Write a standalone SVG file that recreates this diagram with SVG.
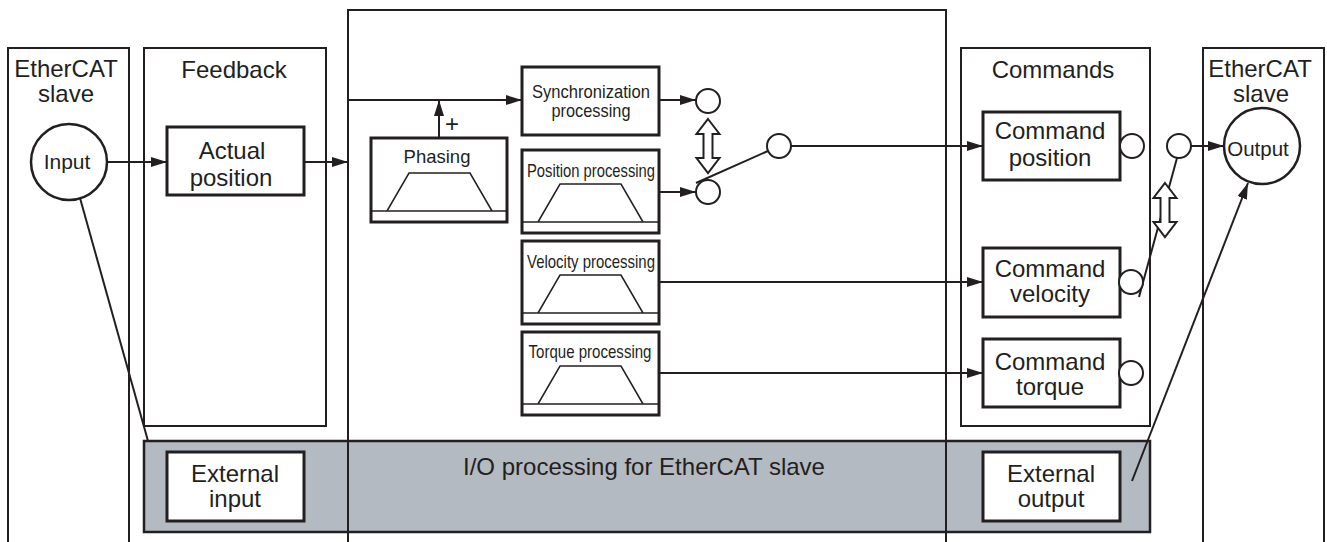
<svg xmlns="http://www.w3.org/2000/svg" width="1327" height="542" viewBox="0 0 1327 542">
<style>
text{font-family:"Liberation Sans",Arial,Helvetica,sans-serif;fill:#231f20;text-anchor:middle}
.big{font-size:24px}
.sm{font-size:19px}
.outer{fill:none;stroke:#231f20;stroke-width:2}
.inner{fill:#fff;stroke:#231f20;stroke-width:3}
.thin{fill:none;stroke:#231f20;stroke-width:1.5}
.conn{fill:none;stroke:#231f20;stroke-width:2}
.circ{fill:#fff;stroke:#231f20;stroke-width:2}
.dbl{fill:#fff;stroke:#231f20;stroke-width:2;stroke-linejoin:miter}
</style>
<defs>
<marker id="ah" viewBox="0 0 16 10" refX="16" refY="5" markerWidth="16" markerHeight="10" markerUnits="userSpaceOnUse" orient="auto">
<path d="M0,0 L16,5 L0,10 Z" fill="#231f20"/>
</marker>
<g id="trap">
<path d="M0,0 H136 M16,0 L38,-38 H99 L121,0" class="thin"/>
</g>
</defs>
<rect width="1327" height="542" fill="#fff"/>

<g id="io-band">
<rect x="144" y="441" width="1006" height="91" fill="#b4bac2" stroke="#231f20" stroke-width="2.5"/>
<text class="big" x="644" y="475">I/O processing for EtherCAT slave</text>
</g>

<g id="ethercat-in">
<path d="M8,545 V48 H129 V545" class="outer"/>
<text class="big" x="66" y="77">EtherCAT</text>
<text class="big" x="66" y="102">slave</text>
</g>
<g id="input">
<circle cx="69" cy="162" r="38" fill="#fff" stroke="#231f20" stroke-width="2.5"/>
<text x="67" y="169" style="font-size:21px">Input</text>
</g>

<g id="feedback">
<rect x="144" y="48" width="182" height="378" class="outer"/>
<text class="big" x="234" y="78">Feedback</text>
</g>
<g id="actual-position">
<rect x="167" y="127" width="137" height="68" class="inner"/>
<text class="big" x="232" y="159">Actual</text>
<text class="big" x="231" y="186">position</text>
</g>
<g id="external-input">
<rect x="167" y="452" width="137" height="69" class="inner"/>
<text class="big" x="235" y="482">External</text>
<text class="big" x="235" y="507">input</text>
</g>

<g id="processing">
<path d="M348,545 V10 H946 V545" class="outer"/>
</g>
<g id="phasing">
<rect x="371" y="138" width="136" height="84" class="inner"/>
<text x="437" y="163" style="font-size:18.5px">Phasing</text>
<use href="#trap" x="371" y="211"/>
<text x="452" y="132" style="font-size:24px">+</text>
</g>
<g id="sync">
<rect x="522" y="67" width="137" height="68" class="inner"/>
<text class="sm" x="591" y="98" textLength="118" lengthAdjust="spacingAndGlyphs">Synchronization</text>
<text class="sm" x="591" y="117" textLength="79" lengthAdjust="spacingAndGlyphs">processing</text>
</g>
<g id="position-processing">
<rect x="522" y="150" width="137" height="83" class="inner"/>
<text class="sm" x="591" y="177" textLength="128" lengthAdjust="spacingAndGlyphs">Position processing</text>
<use href="#trap" x="522" y="222"/>
</g>
<g id="velocity-processing">
<rect x="522" y="241" width="137" height="83" class="inner"/>
<text class="sm" x="591" y="268" textLength="128" lengthAdjust="spacingAndGlyphs">Velocity processing</text>
<use href="#trap" x="522" y="313"/>
</g>
<g id="torque-processing">
<rect x="522" y="332" width="137" height="83" class="inner"/>
<text class="sm" x="590" y="358" textLength="123" lengthAdjust="spacingAndGlyphs">Torque processing</text>
<use href="#trap" x="522" y="404"/>
</g>

<g id="commands">
<rect x="961" y="48" width="189" height="378" class="outer"/>
<text class="big" x="1053" y="78">Commands</text>
</g>
<g id="command-position">
<rect x="983" y="112" width="137" height="68" class="inner"/>
<text class="big" x="1050" y="139">Command</text>
<text class="big" x="1050" y="166">position</text>
</g>
<g id="command-velocity">
<rect x="983" y="248" width="137" height="69" class="inner"/>
<text class="big" x="1050" y="277">Command</text>
<text class="big" x="1050" y="302">velocity</text>
</g>
<g id="command-torque">
<rect x="983" y="339" width="137" height="68" class="inner"/>
<text class="big" x="1050" y="370">Command</text>
<text class="big" x="1050" y="395">torque</text>
</g>
<g id="external-output">
<rect x="983" y="452" width="137" height="69" class="inner"/>
<text class="big" x="1051" y="482">External</text>
<text class="big" x="1051" y="507">output</text>
</g>

<g id="ethercat-out">
<path d="M1203,545 V48 H1324 V545" class="outer"/>
<text class="big" x="1260" y="77">EtherCAT</text>
<text class="big" x="1261" y="102">slave</text>
</g>
<g id="output">
<circle cx="1262" cy="146" r="38" fill="#fff" stroke="#231f20" stroke-width="2.5"/>
<text x="1258" y="156" style="font-size:20.5px">Output</text>
</g>

<g id="connectors">
<line x1="107" y1="162" x2="167" y2="162" class="conn" marker-end="url(#ah)"/>
<line x1="304" y1="162" x2="348" y2="162" class="conn" marker-end="url(#ah)"/>
<line x1="348" y1="100" x2="522" y2="100" class="conn" marker-end="url(#ah)"/>
<line x1="439" y1="138" x2="439" y2="100" class="conn" marker-end="url(#ah)"/>
<line x1="659" y1="100" x2="696" y2="100" class="conn" marker-end="url(#ah)"/>
<line x1="659" y1="192" x2="696" y2="192" class="conn" marker-end="url(#ah)"/>
<line x1="659" y1="282" x2="983" y2="282" class="conn" marker-end="url(#ah)"/>
<line x1="659" y1="373" x2="983" y2="373" class="conn" marker-end="url(#ah)"/>
<line x1="696" y1="183" x2="768" y2="151" class="conn"/>
<line x1="791" y1="146" x2="983" y2="146" class="conn" marker-end="url(#ah)"/>
<line x1="1191" y1="146" x2="1224" y2="146" class="conn" marker-end="url(#ah)"/>
<line x1="1139" y1="297" x2="1177" y2="158" class="conn"/>
<line x1="80" y1="198" x2="148" y2="441" class="conn"/>
<line x1="1132" y1="481" x2="1248" y2="183" class="conn" marker-end="url(#ah)"/>
</g>

<g id="switch-points">
<circle cx="708" cy="101" r="12" class="circ"/>
<circle cx="708" cy="192" r="12" class="circ"/>
<circle cx="779" cy="146" r="12" class="circ"/>
<circle cx="1132" cy="146" r="12" class="circ"/>
<circle cx="1131" cy="282" r="12" class="circ"/>
<circle cx="1131" cy="373" r="12" class="circ"/>
<circle cx="1179" cy="146" r="12" class="circ"/>
</g>
<g id="switch-arrows">
<polygon class="dbl" points="708,119 719.5,134 712.5,134 712.5,158 719.5,158 708,173 696.5,158 703.5,158 703.5,134 696.5,134"/>
<polygon class="dbl" points="1165,183 1176.5,198 1169.5,198 1169.5,222 1176.5,222 1165,237 1153.5,222 1160.5,222 1160.5,198 1153.5,198"/>
</g>
</svg>
